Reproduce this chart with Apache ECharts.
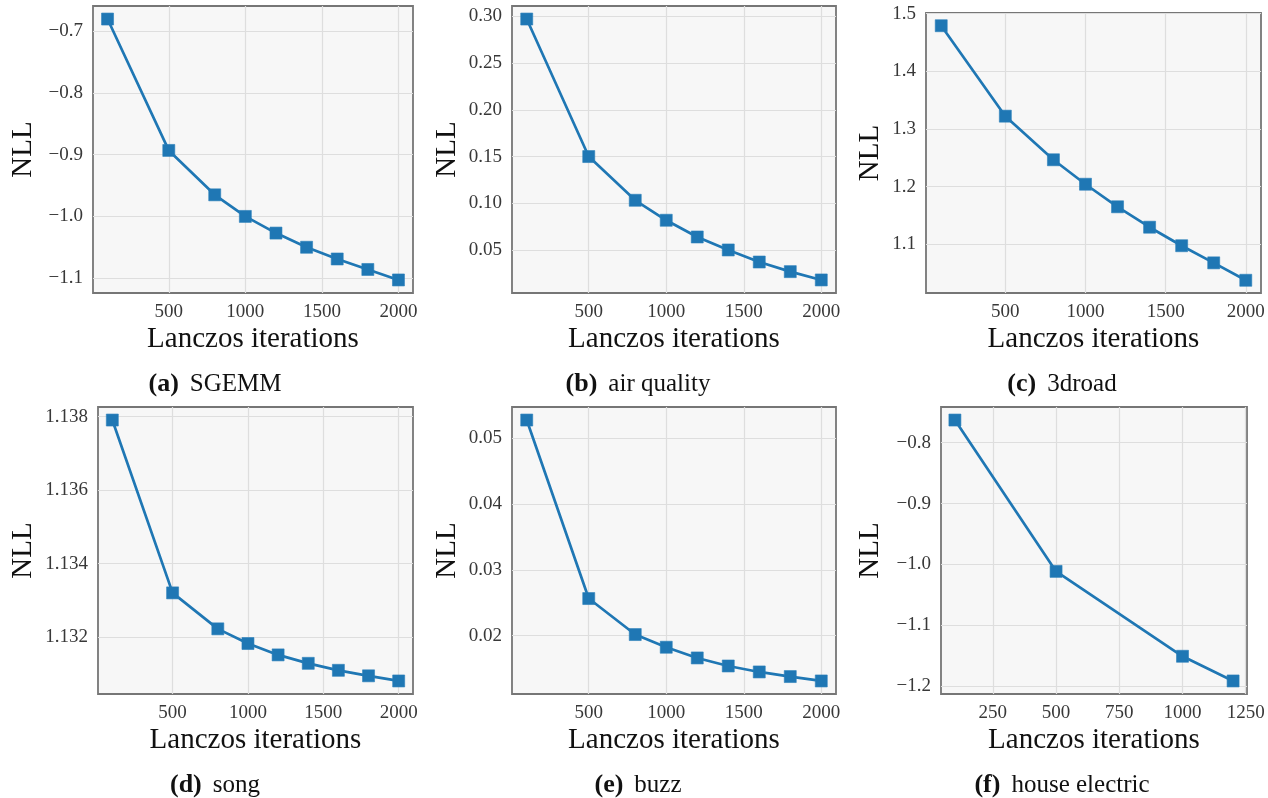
<!DOCTYPE html>
<html>
<head>
<meta charset="utf-8">
<script src="https://cdn.jsdelivr.net/npm/echarts@6/dist/echarts.min.js"></script>
<style>
html,body{margin:0;padding:0;background:#fff;}
#chart{width:1268px;height:798px;}
</style>
</head>
<body>
<div id="chart"></div>
<script>
// ---- data ----
const iters = [100, 500, 800, 1000, 1200, 1400, 1600, 1800, 2000];
const itersHouse = [100, 500, 1000, 1200];

const sgemm = [-0.680, -0.893, -0.965, -1.000, -1.027, -1.050, -1.069, -1.086, -1.103];
const airQuality = [0.2972, 0.1500, 0.1032, 0.0818, 0.0639, 0.0500, 0.0371, 0.0268, 0.0179];
const road3d = [1.479, 1.3222, 1.2466, 1.2042, 1.1651, 1.1297, 1.0976, 1.0679, 1.0377];
const song = [1.13791, 1.13320, 1.13222, 1.13182, 1.13151, 1.13128, 1.13109, 1.13094, 1.13080];
const buzz = [0.05279, 0.02563, 0.02015, 0.01822, 0.01659, 0.01537, 0.01446, 0.01376, 0.01309];
const houseElectric = [-0.7627, -1.0116, -1.1512, -1.1918];

const xTicks = [500, 1000, 1500, 2000];
const xTicksHouse = [250, 500, 750, 1000, 1250];
const yTicksA = [-1.1, -1.0, -0.9, -0.8, -0.7];
const yTicksB = [0.05, 0.10, 0.15, 0.20, 0.25, 0.30];
const yTicksC = [1.1, 1.2, 1.3, 1.4, 1.5];
const yTicksD = [1.132, 1.134, 1.136, 1.138];
const yTicksE = [0.02, 0.03, 0.04, 0.05];
const yTicksF = [-1.2, -1.1, -1.0, -0.9, -0.8];

const captionLetters = ['(a)', '(b)', '(c)', '(d)', '(e)', '(f)'];
const captionNames = ['SGEMM', 'air quality', '3droad', 'song', 'buzz', 'house electric'];

// ---- layout ----
const panels = [
  {x: iters, y: sgemm, xt: xTicks, yt: yTicksA, dec: 1, box: [93, 6, 320, 287], gap: 55, cap: [215, 384]},
  {x: iters, y: airQuality, xt: xTicks, yt: yTicksB, dec: 2, box: [512, 6, 324, 287], gap: 50, cap: [638, 384]},
  {x: iters, y: road3d, xt: xTicks, yt: yTicksC, dec: 1, box: [926, 13, 335, 280], gap: 41, cap: [1062, 384]},
  {x: iters, y: song, xt: xTicks, yt: yTicksD, dec: 3, box: [98, 407, 315, 287], gap: 60, cap: [215, 785]},
  {x: iters, y: buzz, xt: xTicks, yt: yTicksE, dec: 2, box: [512, 407, 324, 287], gap: 50, cap: [638, 785]},
  {x: itersHouse, y: houseElectric, xt: xTicksHouse, yt: yTicksF, dec: 1, box: [941, 407, 306, 287], gap: 56, cap: [1062, 785]}
];

const FONT = 'Liberation Serif';
function fmt(v, d) {
  const s = Number(v).toFixed(d);
  return s.replace('-', '\u2212');
}
function range(arr) {
  const lo = Math.min.apply(null, arr), hi = Math.max.apply(null, arr);
  const m = (hi - lo) * 0.05;
  return [lo - m, hi + m];
}

const grid = [], xAxis = [], yAxis = [], series = [], graphic = [];
panels.forEach((p, i) => {
  grid.push({
    left: p.box[0], top: p.box[1], width: p.box[2], height: p.box[3],
    show: true, backgroundColor: '#f7f7f7', borderColor: '#767676', borderWidth: 1.8,
    containLabel: false
  });
  const xr = range(p.x), yr = range(p.y);
  xAxis.push({
    type: 'value', gridIndex: i, min: xr[0], max: xr[1],
    name: 'Lanczos iterations', nameLocation: 'middle', nameGap: 32,
    nameTextStyle: {fontFamily: FONT, fontSize: 29, color: '#111'},
    axisLine: {show: false}, axisTick: {show: false, customValues: p.xt},
    axisLabel: {customValues: p.xt, fontFamily: FONT, fontSize: 19, color: '#383838', margin: 10,
      formatter: v => fmt(v, 0)},
    splitLine: {show: true, lineStyle: {color: '#dedede', width: 1.2}}
  });
  yAxis.push({
    type: 'value', gridIndex: i, min: yr[0], max: yr[1],
    name: 'NLL', nameLocation: 'middle', nameGap: p.gap,
    nameTextStyle: {fontFamily: FONT, fontSize: 29, color: '#111'},
    axisLine: {show: false}, axisTick: {show: false, customValues: p.yt},
    axisLabel: {customValues: p.yt, fontFamily: FONT, fontSize: 19, color: '#383838', margin: 10,
      formatter: v => fmt(v, p.dec)},
    splitLine: {show: true, lineStyle: {color: '#dedede', width: 1.2}}
  });
  series.push({
    type: 'line', xAxisIndex: i, yAxisIndex: i,
    data: p.x.map((xv, k) => [xv, p.y[k]]),
    symbol: 'rect', symbolSize: 12, showSymbol: true,
    lineStyle: {color: '#1f77b4', width: 2.7},
    itemStyle: {color: '#1f77b4', borderColor: '#2a7fba', borderWidth: 0.6},
    animation: false, silent: true, clip: false
  });
  graphic.push({
    type: 'text', x: p.cap[0], y: p.cap[1],
    style: {
      text: '{b|' + captionLetters[i] + '}{n|' + captionNames[i] + '}',
      textAlign: 'center', textVerticalAlign: 'middle',
      rich: {
        b: {fontFamily: FONT, fontSize: 26, fontWeight: 'bold', fill: '#111', padding: [0, 11, 0, 0]},
        n: {fontFamily: FONT, fontSize: 25, fill: '#111'}
      }
    }
  });
});

const chart = echarts.init(document.getElementById('chart'), null, {renderer: 'canvas'});
chart.setOption({
  animation: false,
  backgroundColor: '#ffffff',
  grid, xAxis, yAxis, series, graphic
});
</script>
</body>
</html>
